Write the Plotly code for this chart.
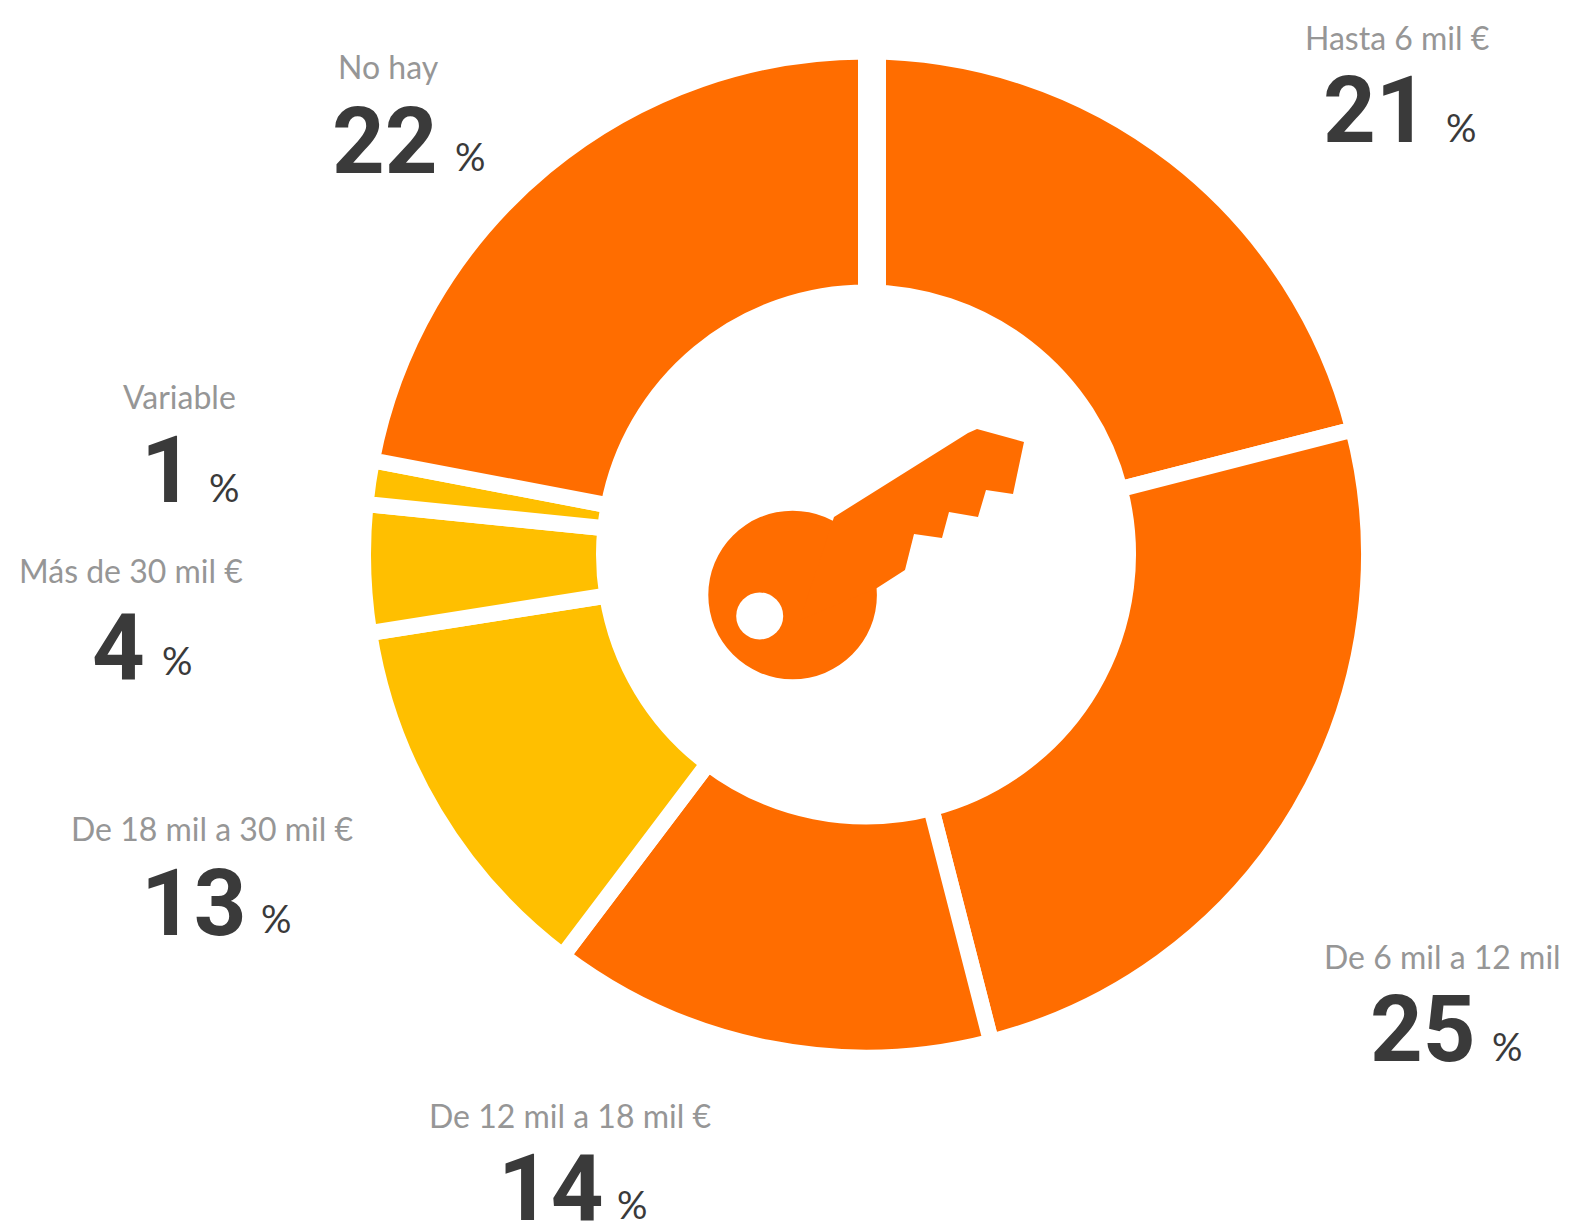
import plotly.graph_objects as go

PAGE_MARGIN = 8  # the page's own body margin offsets the figure
W, H = 1569 - PAGE_MARGIN, 1226 - PAGE_MARGIN

# Data
categories = ["Hasta 6 mil €", "De 6 mil a 12 mil", "De 12 mil a 18 mil €",
              "De 18 mil a 30 mil €", "Más de 30 mil €", "Variable", "No hay"]
values = [21, 25, 14.3, 12.2, 4.1, 1.4, 22]
# Numbers as printed on the picture
value_labels = ["21", "25", "14", "13", "4", "1", "22"]
slice_colors = ["#FF6D00", "#FF6D00", "#FF6D00", "#FFBF00", "#FFBF00", "#FFBF00", "#FF6D00"]

# Text positions in pixels: label centre, number centre, percent centre
label_pos = [(1397, 37), (1442, 956), (570, 1115), (212, 828), (131, 570), (179, 396), (388, 66)]
number_pos = [(1376, 110), (1423, 1029), (551, 1188), (194, 903), (118, 647), (167, 470), (385, 142)]
percent_pos = [(1461, 127), (1507, 1046), (632, 1204), (276, 918), (177, 660), (224, 487), (470, 156)]

CX, CY, R = 866, 554.5, 503
HOLE = 262 / 503
GAP = 16
ORANGE = "#FF6D00"
GREY = "#969696"
DARK = "#3A3A3A"
LABEL_FONT = "Lato"
NUM_FONT = "Roboto"


def px(x):
    return (x - PAGE_MARGIN) / W


def py(y):
    return 1 - (y - PAGE_MARGIN) / H


fig = go.Figure(go.Pie(
    labels=categories, values=values, sort=False, direction="clockwise", rotation=0,
    hole=HOLE, textinfo="none", showlegend=False,
    marker=dict(colors=slice_colors, line=dict(color="white", width=GAP)),
    domain=dict(x=[px(CX - R), px(CX + R)], y=[py(CY + R), py(CY - R)]),
))

ann = []
for name, val, lp, np_, pp in zip(categories, value_labels, label_pos, number_pos, percent_pos):
    ann.append(dict(text=name, x=px(lp[0]), y=py(lp[1]), showarrow=False,
                    font=dict(family=LABEL_FONT, size=32, color=GREY)))
    ann.append(dict(text=f"<b>{val}</b>", x=px(np_[0]), y=py(np_[1]), showarrow=False,
                    font=dict(family=NUM_FONT, size=92, color=DARK)))
    ann.append(dict(text="%", x=px(pp[0]), y=py(pp[1]), showarrow=False,
                    font=dict(family=LABEL_FONT, size=38, color=DARK)))
for a in ann:
    a.update(xref="paper", yref="paper", xanchor="center", yanchor="middle")


def circle(cx, cy, r, color):
    return dict(type="circle", xref="paper", yref="paper", x0=px(cx - r), x1=px(cx + r),
                y0=py(cy + r), y1=py(cy - r), fillcolor=color, line=dict(width=0), layer="above")


blade = [(834, 517), (968, 433), (977, 429), (1024, 442), (1013, 494), (986, 490), (978, 517),
         (949, 512), (942, 538), (914, 534), (905, 570), (877, 588), (800, 620)]
path = "M " + " L ".join(f"{px(x):.5f},{py(y):.5f}" for x, y in blade) + " Z"

shapes = [
    dict(type="rect", xref="paper", yref="paper", x0=px(872), x1=px(886), y0=py(295), y1=py(45),
         fillcolor="white", line=dict(width=0), layer="above"),
    circle(792.6, 595, 84.3, ORANGE),
    dict(type="path", xref="paper", yref="paper", path=path, fillcolor=ORANGE,
         line=dict(width=0), layer="above"),
    circle(759.7, 616, 23.5, "white"),
]

fig.update_layout(width=W, height=H, margin=dict(l=0, r=0, t=0, b=0), autosize=False,
                  paper_bgcolor="white", plot_bgcolor="white", annotations=ann, shapes=shapes)
fig.write_html("out.html")
